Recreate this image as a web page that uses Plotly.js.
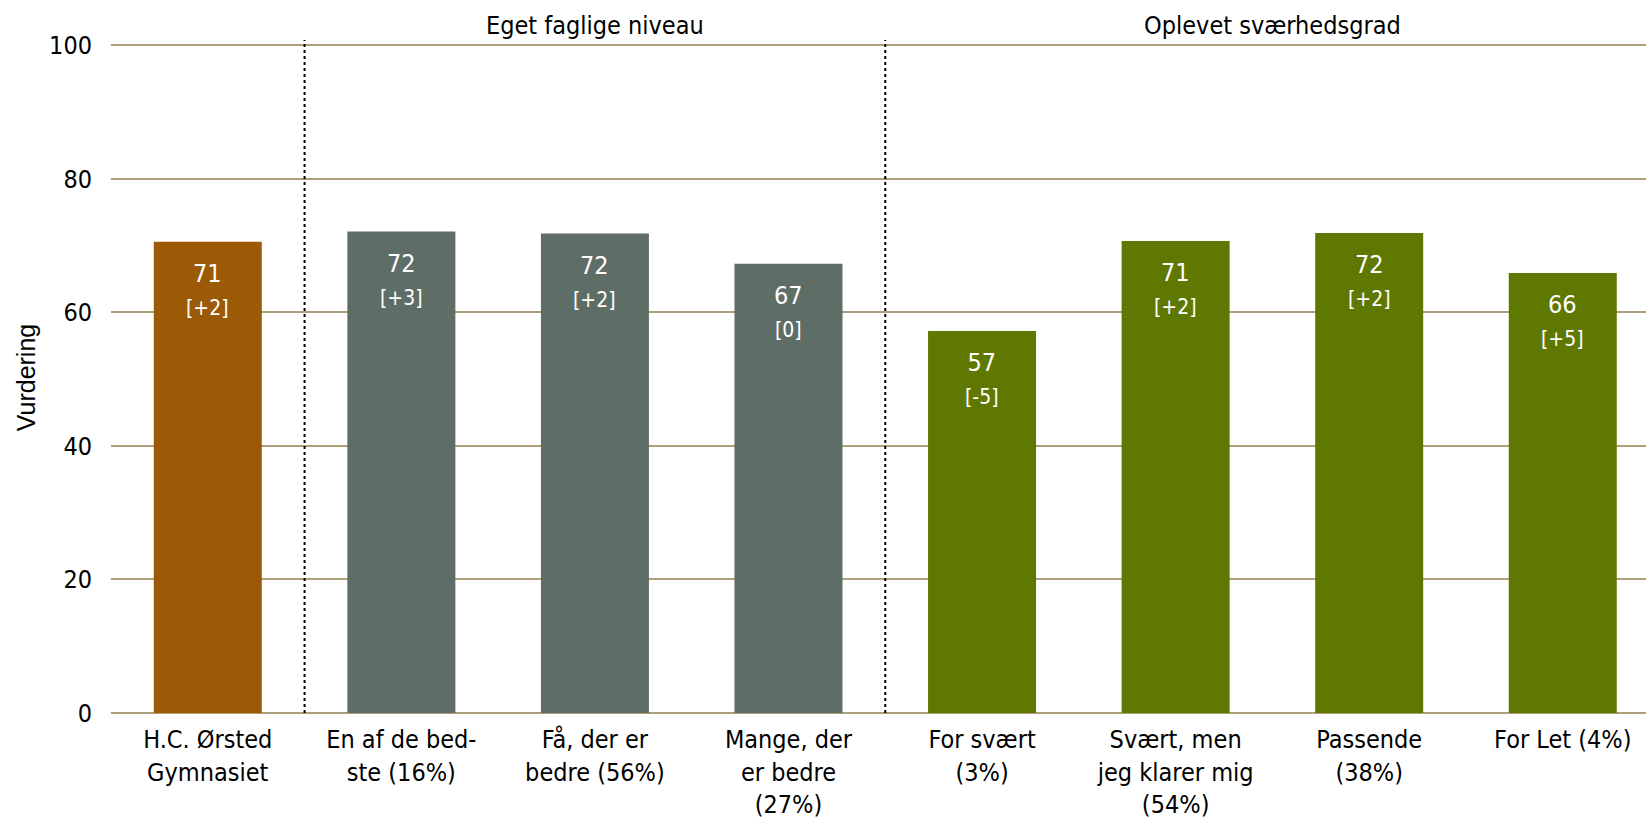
<!DOCTYPE html>
<html>
<head>
<meta charset="utf-8">
<script src="https://cdn.plot.ly/plotly-3.0.1.min.js"></script>
<style>html,body{margin:0;padding:0;background:#fff;}#chart{width:1646px;height:821px;}</style>
</head>
<body>
<div id="chart"></div>
<script>
// ---- data ----
const categories = [
  "H.C. Ørsted<br>Gymnasiet",
  "En af de bed-<br>ste (16%)",
  "Få, der er<br>bedre (56%)",
  "Mange, der<br>er bedre<br>(27%)",
  "For svært<br>(3%)",
  "Svært, men<br>jeg klarer mig<br>(54%)",
  "Passende<br>(38%)",
  "For Let (4%)"
];
const values = [70.6, 72.1, 71.8, 67.3, 57.2, 70.7, 71.9, 65.9];
const valueLabels = ["71", "72", "72", "67", "57", "71", "72", "66"];
const changeLabels = ["[+2]", "[+3]", "[+2]", "[0]", "[-5]", "[+2]", "[+2]", "[+5]"];
const groupNames = ["Eget faglige niveau", "Oplevet sværhedsgrad"];
const groupStart = [1, 4];
const groupEnd = [3, 7];
const yTicks = [0, 20, 40, 60, 80, 100];

// ---- style ----
const FONT = "DejaVu Sans Condensed, DejaVu Sans, sans-serif";
const colorSchool = "#9C5A06";
const colorLevel = "#5E6E66";
const colorDiff = "#5F7802";
const gridColor = "#ADA079";

const barColors = categories.map((c, i) => {
  if (i >= groupStart[1]) return colorDiff;
  if (i >= groupStart[0]) return colorLevel;
  return colorSchool;
});

const trace = {
  type: "bar",
  x: categories.map((c, i) => i),
  y: values,
  marker: {color: barColors},
  hoverinfo: "skip",
  showlegend: false
};

const annotations = [];
values.forEach((v, i) => {
  annotations.push({
    x: i, y: v, xref: "x", yref: "y",
    text: valueLabels[i] + "<br><span style='font-size:21px'>" + changeLabels[i] + "</span>",
    showarrow: false, yanchor: "top", yshift: -15,
    font: {family: FONT, size: 25, color: "#ffffff"}
  });
});
groupNames.forEach((g, k) => {
  annotations.push({
    x: (groupStart[k] + groupEnd[k]) / 2, y: 1, xref: "x", yref: "paper",
    text: g, showarrow: false, yanchor: "middle", yshift: 17,
    font: {family: FONT, size: 25, color: "#000000"}
  });
});

const shapes = groupStart.map(s => ({
  type: "line", xref: "x", yref: "paper",
  x0: s - 0.5, x1: s - 0.5, y0: 0, y1: 1.003,
  line: {color: "#000000", width: 2, dash: "dot"}
}));

const layout = {
  width: 1646, height: 821,
  margin: {l: 111, r: 0, t: 42, b: 108},
  paper_bgcolor: "#ffffff", plot_bgcolor: "#ffffff",
  bargap: 0.442,
  font: {family: FONT, size: 25, color: "#000000"},
  xaxis: {
    range: [-0.5, 7.43],
    tickmode: "array", tickvals: categories.map((c, i) => i), ticktext: categories,
    tickangle: 0, showgrid: false, zeroline: false, showline: false,
    ticks: "", ticklabelstandoff: 9,
    tickfont: {family: FONT, size: 25, color: "#000000"}
  },
  yaxis: {
    range: [0, 100.5], tickvals: yTicks,
    showgrid: true, gridcolor: gridColor, gridwidth: 2,
    zeroline: true, zerolinecolor: gridColor, zerolinewidth: 2,
    showline: false, ticks: "", ticklabelstandoff: 18,
    tickfont: {family: FONT, size: 25, color: "#000000"},
    title: {text: "Vurdering", standoff: 6, font: {family: "Liberation Sans, Arial, sans-serif", size: 25, color: "#000000"}}
  },
  annotations: annotations,
  shapes: shapes
};

Plotly.newPlot("chart", [trace], layout, {displayModeBar: false, staticPlot: true});
</script>
</body>
</html>
